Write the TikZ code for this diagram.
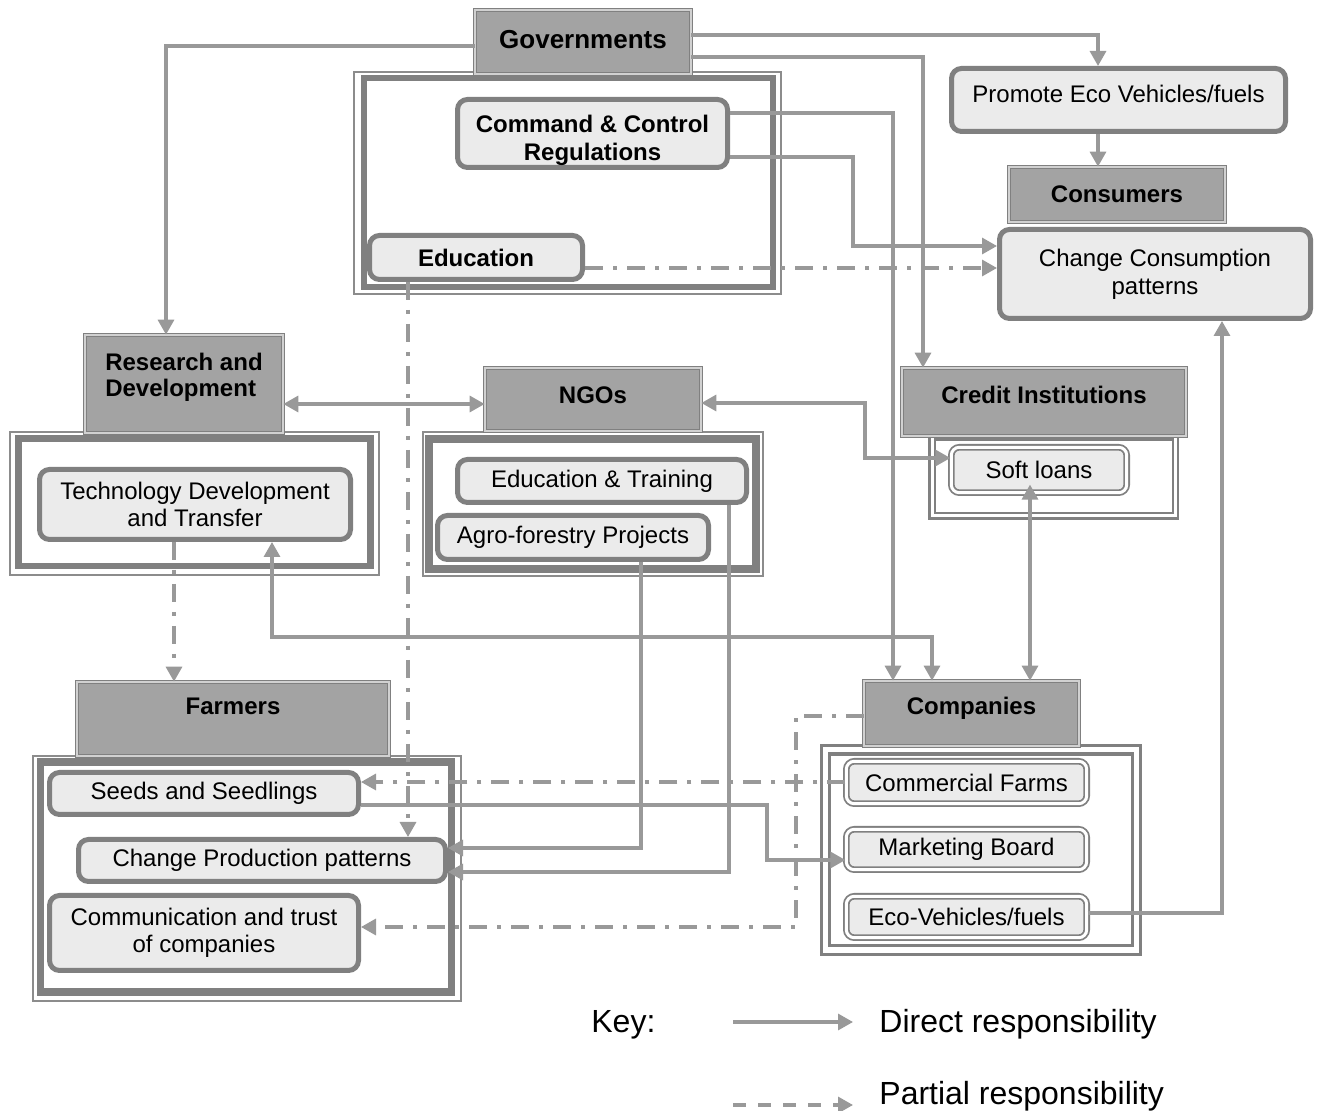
\documentclass[tikz,border=0pt]{standalone}
\usepackage{fontspec}
\setmainfont{Liberation Sans}
\usetikzlibrary{arrows.meta}
\definecolor{conncol}{gray}{0.6}
\definecolor{framecol}{gray}{0.5}
\definecolor{thincol}{gray}{0.55}
\definecolor{bordercol}{gray}{0.5}
\definecolor{boxfill}{gray}{0.92}
\definecolor{hdrfill}{gray}{0.64}
\definecolor{hdrline}{gray}{0.5}
\definecolor{hdrgap}{gray}{0.82}
\begin{document}
\begin{tikzpicture}[x=0.5pt,y=-0.5pt,
  >={Triangle[length=7.5pt,width=8pt]},
  rbox/.style={draw=bordercol, line width=2.5pt, rounded corners=5pt, fill=boxfill, inner sep=0pt, align=center, font=\fontsize{12pt}{13.5pt}\selectfont},
  dbox/.style={draw=bordercol, line width=0.9pt, double=white, double distance=1.5pt, rounded corners=4pt, fill=boxfill, inner sep=0pt, align=center, font=\fontsize{12pt}{13.5pt}\selectfont},
  hdr/.style={draw=hdrline, line width=0.55pt, double=hdrgap, double distance=1.1pt, fill=hdrfill, inner sep=0pt, font=\fontsize{12pt}{13pt}\selectfont\bfseries},
  conn/.style={draw=conncol, line width=1.6pt},
  partial/.style={conn, dash pattern=on 9pt off 5pt on 2pt off 5pt},
  thinframe/.style={draw=thincol, line width=1pt},
  keytext/.style={inner sep=0pt, anchor=base west, font=\fontsize{16pt}{19pt}\selectfont}]

\path[fill=white, use as bounding box] (0,0) rectangle (1319,1111);

% ---------- container frames ----------
\draw[thinframe] (353.8,71.7) rectangle (780.5,293.8);
\draw[draw=framecol, line width=3pt] (364.2,78.3) rectangle (773.3,287.5);

\draw[thinframe] (10,432.3) rectangle (379,575);
\draw[draw=framecol, line width=3.25pt] (18.3,438.7) rectangle (370.5,566);

\draw[thinframe] (422.8,431.8) rectangle (762.5,575.8);
\draw[draw=framecol, line width=3.75pt] (429,439) rectangle (755.8,568.8);

\draw[draw=framecol, line width=1.25pt] (929.5,434) rectangle (1178,518.7);
\draw[draw=framecol, line width=1.25pt] (935,439.5) rectangle (1173,513);

\draw[thinframe] (33.3,755.8) rectangle (461.2,1001.2);
\draw[draw=framecol, line width=3.75pt] (40.3,762) rectangle (451.3,992.2);

\draw[draw=framecol, line width=1.65pt] (821.7,745.3) rectangle (1140.8,954.2);
\draw[draw=framecol, line width=1.65pt] (829.3,754) rectangle (1132.3,945.3);

% ---------- headers ----------
\node[hdr, minimum width=107.8pt, text height=19.05pt, text depth=12.75pt, font=\fontsize{13pt}{14pt}\selectfont\bfseries] (gov) at (583,42) {Governments};
\node[hdr, minimum width=107.8pt, minimum height=27.3pt] (consh) at (1117,194.5) {Consumers};
\node[hdr, minimum width=98.8pt, text height=17.7pt, text depth=31.1pt] (rdh) at (184,384) {\renewcommand\arraystretch{1}\begin{tabular}[t]{@{}l@{}}Research and\\Development\end{tabular}};
\node[hdr, minimum width=107.8pt, text height=17.7pt, text depth=13.6pt] (ngoh) at (593,399.5) {NGOs};
\node[hdr, minimum width=141.8pt, text height=17.7pt, text depth=16.1pt] (credh) at (1044,402) {Credit Institutions};
\node[hdr, minimum width=155.8pt, text height=16.2pt, text depth=20.6pt] (farmh) at (233,719) {Farmers};
\node[hdr, minimum width=107.3pt, text height=16.7pt, text depth=15.6pt] (comph) at (971.5,713.5) {Companies};

% ---------- rounded boxes ----------
\node[rbox, minimum width=135pt, text height=16.55pt, text depth=17.45pt, font=\fontsize{12pt}{14pt}\selectfont\bfseries] (cc) at (592.5,133.5) {\renewcommand\arraystretch{1}\begin{tabular}[t]{@{}c@{}}Command \& Control\\Regulations\end{tabular}};
\node[rbox, minimum width=106.5pt, minimum height=22pt, font=\fontsize{12pt}{14pt}\selectfont\bfseries] (edu) at (476,257.5) {Education};
\node[rbox, minimum width=167pt, text height=17.05pt, text depth=14.45pt] (promote) at (1118.5,100) {Promote Eco Vehicles/fuels};
\node[rbox, minimum width=155.5pt, minimum height=44.5pt, font=\fontsize{12pt}{14pt}\selectfont] (cons) at (1155,274) {Change Consumption\\patterns};
\node[rbox, minimum width=155.5pt, minimum height=35pt] (tech) at (195,504.5) {Technology Development\\and Transfer};
\node[rbox, minimum width=144.5pt, minimum height=21.5pt] (edtr) at (602,481) {Education \& Training};
\node[rbox, minimum width=135.5pt, minimum height=22pt] (agro) at (573,537.5) {Agro-forestry Projects};
\node[rbox, minimum width=154.5pt, minimum height=21pt] (seeds) at (204,793.5) {Seeds and Seedlings};
\node[rbox, minimum width=183.5pt, minimum height=21pt] (prod) at (262,860.5) {Change Production patterns};
\node[rbox, minimum width=154.5pt, minimum height=37.5pt] (comm) at (204,933) {Communication and trust\\of companies};

\node[dbox, minimum width=87.7pt, minimum height=22.7pt] (soft) at (1039,470) {Soft loans};
\node[dbox, minimum width=120.2pt, minimum height=21.2pt] (cfarm) at (966.5,782.5) {Commercial Farms};
\node[dbox, minimum width=120.2pt, minimum height=20.2pt] (mkt) at (966.5,849.5) {Marketing Board};
\node[dbox, minimum width=120.2pt, minimum height=20.7pt] (eco) at (966.5,917) {Eco-Vehicles/fuels};

% ---------- connectors ----------
\draw[conn,->] (gov.west |- 0,46) -| (rdh.north -| 166,0);
\draw[conn,->] (gov.east |- 0,35) -| (promote.north -| 1098,0);
\draw[conn,->] (gov.east |- 0,57) -| (credh.north -| 923,0);
\draw[conn,->] (cc.east |- 0,113) -| (comph.north -| 893,0);
\draw[conn,->] (cc.east |- 0,157) -| (853,246) -- (cons.west |- 0,246);
\draw[partial,->] (edu.east |- 0,268) -- (cons.west |- 0,268);
\draw[partial,->] (edu.south -| 408,0) -- (prod.north -| 408,0);
\draw[conn,<->] (rdh.east |- 0,404) -- (ngoh.west |- 0,404);
\draw[conn,<->] (ngoh.east |- 0,403) -| (865,458) -- (soft.west |- 0,458);
\draw[conn,<->, shorten >=-4.5pt] (comph.north -| 1030,0) -- (soft.south -| 1030,0);
\draw[conn,<->] (tech.south -| 272,0) |- (932,637) -- (comph.north -| 932,0);
\draw[partial,->] (tech.south -| 174,0) -- (farmh.north -| 174,0);
\draw[conn,->] (agro.south -| 641,0) |- (prod.east |- 0,848);
\draw[conn,->] (edtr.south -| 729,0) |- (prod.east |- 0,872);
\draw[conn,->] (seeds.east |- 0,805) -| (767,860) -- (mkt.west |- 0,860);
\draw[partial,->] (cfarm.west |- 0,782) -- (seeds.east |- 0,782);
\draw[partial,->] (comph.west |- 0,716) -| (796,927) -- (comm.east |- 0,927);
\draw[conn,->] (eco.east |- 0,913) -| (cons.south -| 1222,0);
\draw[conn,->] (promote.south -| 1098,0) -- (consh.north -| 1098,0);

% ---------- key ----------
\node[keytext] (keylbl) at (591,1032.5) {Key:};
\node[keytext] (kdirect) at (879,1032.5) {Direct responsibility};
\node[keytext] (kpartial) at (879,1104.5) {Partial responsibility};
\coordinate (kd1) at (733,1022);
\coordinate (kd2) at (853,1022);
\coordinate (kp1) at (733,1105);
\coordinate (kp2) at (853,1105);
\draw[conn,->] (kd1) -- (kd2);
\draw[conn,->,dash pattern=on 6.5pt off 6pt] (kp1) -- (kp2);
\end{tikzpicture}
\end{document}
